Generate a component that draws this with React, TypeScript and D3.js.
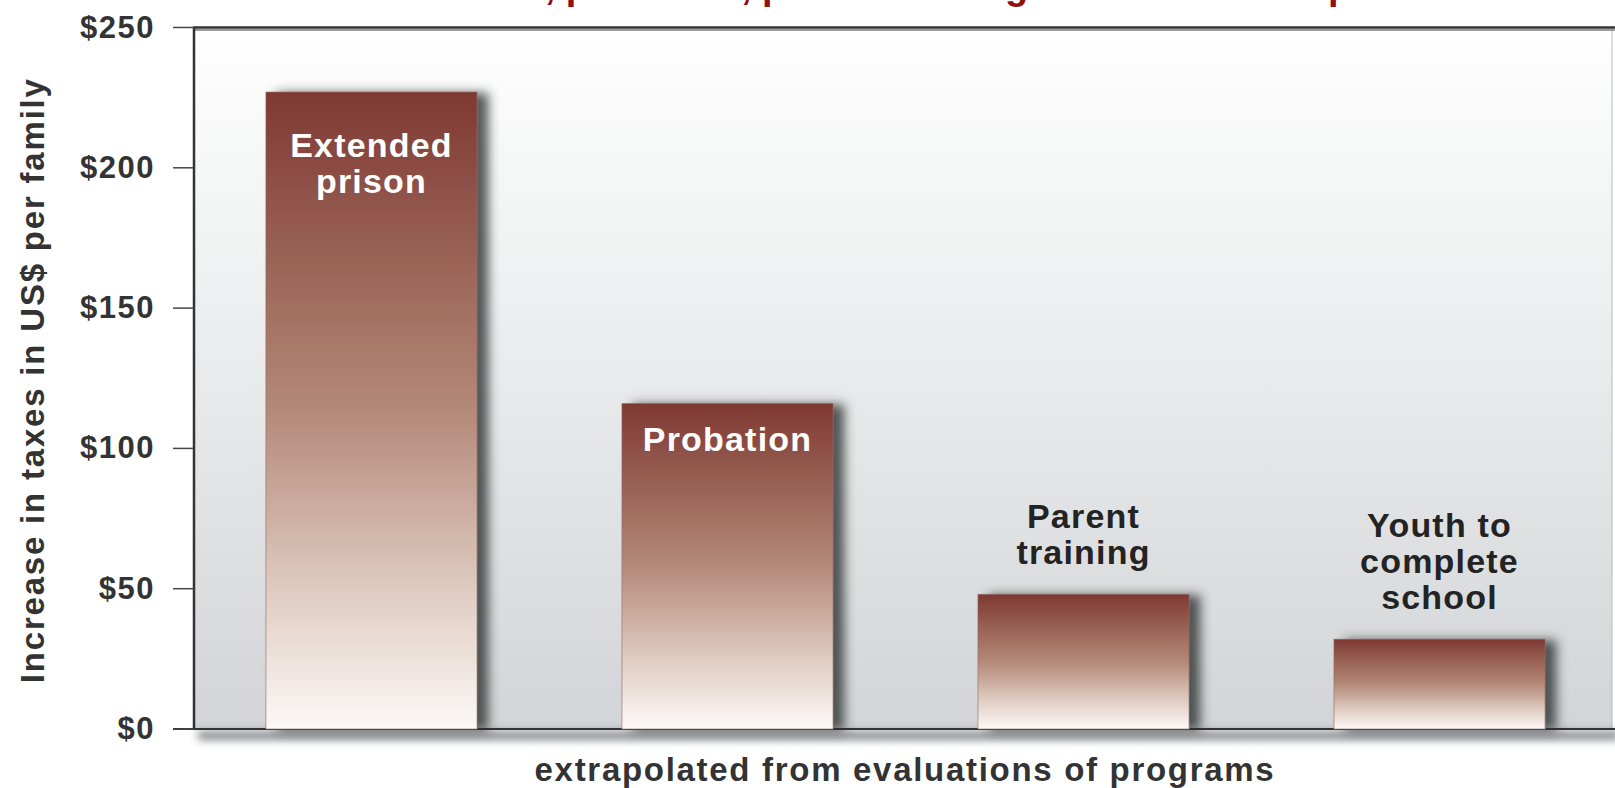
import * as d3 from "d3";

// Programs compared, with the extra tax each would cost a family.
const categories = ["Extended prison", "Probation", "Parent training", "Youth to complete school"];
const labelLines = [["Extended", "prison"], ["Probation"], ["Parent", "training"], ["Youth to", "complete", "school"]];
const values = [227, 116, 48, 32];
const labelInside = [true, true, false, false];
const yTicks = [0, 50, 100, 150, 200, 250];

const TITLE = "Incarceration, probation, parent training and school completion";
const Y_TITLE = "Increase in taxes in US$ per family";
const X_TITLE = "extrapolated from evaluations of programs";

const W = 1615;
const H = 788;
const PLOT = { left: 194, right: 1612, top: 27.5, bottom: 729 };
const FONT = "'Liberation Sans', Arial, Helvetica, sans-serif";

const App = () => {
  const y = d3.scaleLinear().domain([0, 250]).range([PLOT.bottom, PLOT.top]);
  const x = d3
    .scaleBand<string>()
    .domain(categories)
    .range([PLOT.left, 1617])
    .paddingInner(0.407)
    .paddingOuter(0.202);
  const bw = x.bandwidth();

  return (
    <svg
      width={W}
      height={H}
      viewBox={`0 0 ${W} ${H}`}
      style={{ position: "absolute", left: 0, top: 0, background: "#fff", fontFamily: FONT }}
    >
      <defs>
        <linearGradient id="plotBg" x1="0" y1="0" x2="0" y2="1">
          <stop offset="0" stopColor="#ffffff" />
          <stop offset="0.5" stopColor="#e9eaeb" />
          <stop offset="1" stopColor="#d2d4d7" />
        </linearGradient>
        <linearGradient id="barFill" x1="0" y1="0" x2="0" y2="1">
          <stop offset="0" stopColor="#7e3932" />
          <stop offset="0.5" stopColor="#b48979" />
          <stop offset="0.8" stopColor="#e2cfc5" />
          <stop offset="1" stopColor="#fcf9f8" />
        </linearGradient>
        <filter id="barShadow" x="-20%" y="-20%" width="140%" height="140%">
          <feDropShadow dx="11" dy="1" stdDeviation="5.5" floodColor="#2b2e33" floodOpacity="0.8" />
        </filter>
        <filter id="soft" x="-5%" y="-200%" width="110%" height="500%">
          <feGaussianBlur stdDeviation="4" />
        </filter>
      </defs>

      {/* title: only its descenders fall inside the page */}
      <text x={306} y={-1} fontSize={38} fontWeight="bold" fill="#8e1010">
        {TITLE}
      </text>

      {/* plot area */}
      <rect
        x={PLOT.left}
        y={PLOT.top}
        width={PLOT.right - PLOT.left}
        height={PLOT.bottom - PLOT.top}
        fill="url(#plotBg)"
      />
      <line x1={PLOT.right} x2={PLOT.right} y1={PLOT.top} y2={PLOT.bottom} stroke="#b8babd" strokeWidth={1} />
      <line x1={PLOT.left} x2={W} y1={PLOT.top + 2.5} y2={PLOT.top + 2.5} stroke="#9a9a9a" strokeWidth={2} />
      <line x1={PLOT.left} x2={W} y1={PLOT.top} y2={PLOT.top} stroke="#333" strokeWidth={2.5} />

      {/* baseline shadow */}
      <rect
        x={PLOT.left + 4}
        y={PLOT.bottom + 2}
        width={W - PLOT.left}
        height={9}
        fill="#5d6065"
        opacity={0.75}
        filter="url(#soft)"
      />
      <line x1={173} x2={W} y1={PLOT.bottom} y2={PLOT.bottom} stroke="#333" strokeWidth={2} />

      {/* bars */}
      {categories.map((c, i) => (
        <rect
          key={c}
          x={x(c)}
          y={y(values[i])}
          width={bw}
          height={y(0) - y(values[i])}
          fill="url(#barFill)"
          stroke="#8d6a62"
          strokeOpacity={0.6}
          strokeWidth={1}
          filter="url(#barShadow)"
        />
      ))}

      {/* bar labels */}
      {categories.map((c, i) => {
        const cx = (x(c) ?? 0) + bw / 2;
        const lines = labelLines[i];
        const top = y(values[i]);
        const first = labelInside[i]
          ? top + 47 + 18 * (lines.length - 1)
          : top - 30 - 36 * (lines.length - 1);
        return (
          <text
            key={c}
            x={cx}
            textAnchor="middle"
            fontSize={34}
            fontWeight="bold"
            letterSpacing={1.2}
            fill={labelInside[i] ? "#ffffff" : "#232323"}
          >
            {lines.map((l, j) => (
              <tspan key={l} x={cx} y={first + j * 36}>
                {l}
              </tspan>
            ))}
          </text>
        );
      })}

      {/* y axis */}
      <line x1={PLOT.left} x2={PLOT.left} y1={PLOT.top - 1} y2={PLOT.bottom} stroke="#333" strokeWidth={2.5} />
      {yTicks.map((t) => (
        <g key={t}>
          <line x1={173} x2={PLOT.left} y1={y(t)} y2={y(t)} stroke="#444" strokeWidth={1.5} />
          <text
            x={155}
            y={y(t) + 10}
            textAnchor="end"
            fontSize={31}
            fontWeight="bold"
            letterSpacing={1.5}
            fill="#333"
          >
            {`$${t}`}
          </text>
        </g>
      ))}

      <text
        transform={`translate(44, ${(PLOT.top + PLOT.bottom) / 2 + 2}) rotate(-90)`}
        textAnchor="middle"
        fontSize={33}
        fontWeight="bold"
        letterSpacing={1.8}
        fill="#333"
      >
        {Y_TITLE}
      </text>

      <text
        x={905}
        y={781}
        textAnchor="middle"
        fontSize={33}
        fontWeight="bold"
        letterSpacing={1.7}
        fill="#333"
      >
        {X_TITLE}
      </text>
    </svg>
  );
};

export default App;
